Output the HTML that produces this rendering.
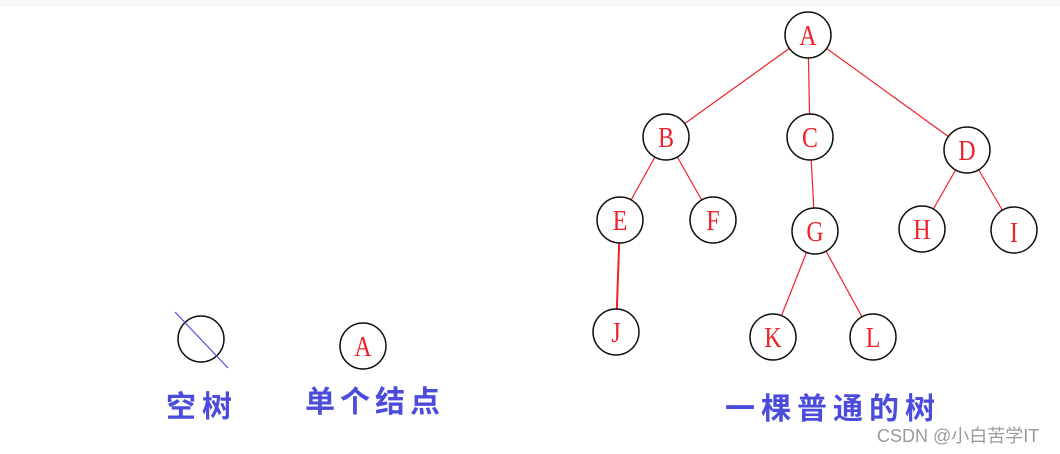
<!DOCTYPE html>
<html><head><meta charset="utf-8"><style>
html,body{margin:0;padding:0;background:#fff;}
body{width:1060px;height:454px;overflow:hidden;position:relative;}
.top{position:absolute;left:0;top:0;width:1060px;height:7px;background:#f7f8fa;}
svg{position:absolute;left:0;top:0;}
.lbl{position:absolute;font-family:"Liberation Sans","Noto Sans CJK SC",sans-serif;font-weight:bold;color:#4b4bdc;font-size:30px;white-space:nowrap;line-height:1;}
.wm{position:absolute;left:877px;top:427px;font-family:"Liberation Sans","Noto Sans CJK SC",sans-serif;font-size:18px;color:#9a9a9a;white-space:nowrap;line-height:1;}
</style></head><body>
<div class="top"></div>
<svg width="1060" height="454" viewBox="0 0 1060 454">
<g stroke="#f0202a" stroke-width="1.2" fill="none">
<line x1="808" y1="35" x2="666" y2="137"/>
<line x1="808" y1="35" x2="810" y2="137"/>
<line x1="808" y1="35" x2="967" y2="150"/>
<line x1="666" y1="137" x2="620" y2="220"/>
<line x1="666" y1="137" x2="713" y2="220"/>
<line x1="810" y1="137" x2="815" y2="231"/>
<line x1="967" y1="150" x2="922" y2="229"/>
<line x1="967" y1="150" x2="1014" y2="230"/>
<line x1="620" y1="220" x2="616" y2="332" stroke-width="2"/>
<line x1="815" y1="231" x2="773" y2="337"/>
<line x1="815" y1="231" x2="873" y2="337"/>
</g>
<g stroke="#111" stroke-width="1.5" fill="#fff">
<circle cx="808" cy="35" r="23"/>
<circle cx="666" cy="137" r="23"/>
<circle cx="810" cy="137" r="23"/>
<circle cx="967" cy="150" r="23"/>
<circle cx="620" cy="220" r="23"/>
<circle cx="713" cy="220" r="23"/>
<circle cx="815" cy="231" r="23"/>
<circle cx="922" cy="229" r="23"/>
<circle cx="1014" cy="230" r="23"/>
<circle cx="616" cy="332" r="23"/>
<circle cx="773" cy="337" r="23"/>
<circle cx="873" cy="337" r="23"/>
<circle cx="201" cy="339" r="23"/>
<circle cx="363" cy="346" r="23"/>
</g>
<line x1="175" y1="312" x2="228" y2="368" stroke="#4a4ae0" stroke-width="1.2"/>
<g font-family="Liberation Serif, serif" font-size="28" fill="#f0202a" text-anchor="middle">
<text x="808" y="45" transform="translate(808 0) scale(0.85 1) translate(-808 0)">A</text>
<text x="666" y="147" transform="translate(666 0) scale(0.85 1) translate(-666 0)">B</text>
<text x="810" y="147" transform="translate(810 0) scale(0.85 1) translate(-810 0)">C</text>
<text x="967" y="160" transform="translate(967 0) scale(0.85 1) translate(-967 0)">D</text>
<text x="620" y="230" transform="translate(620 0) scale(0.85 1) translate(-620 0)">E</text>
<text x="713" y="230" transform="translate(713 0) scale(0.85 1) translate(-713 0)">F</text>
<text x="815" y="241" transform="translate(815 0) scale(0.85 1) translate(-815 0)">G</text>
<text x="922" y="239" transform="translate(922 0) scale(0.85 1) translate(-922 0)">H</text>
<text x="1014" y="242" transform="translate(1014 0) scale(0.85 1) translate(-1014 0)">I</text>
<text x="616" y="342" transform="translate(616 0) scale(0.85 1) translate(-616 0)">J</text>
<text x="773" y="347" transform="translate(773 0) scale(0.85 1) translate(-773 0)">K</text>
<text x="873" y="347" transform="translate(873 0) scale(0.85 1) translate(-873 0)">L</text>
<text x="363" y="356" transform="translate(363 0) scale(0.85 1) translate(-363 0)">A</text>
</g>
</svg>
<div class="lbl" style="left:166px;top:393px;letter-spacing:6px;">空树</div>
<div class="lbl" style="left:305px;top:388px;letter-spacing:5px;">单个结点</div>
<div class="lbl" style="left:725px;top:395px;letter-spacing:6px;">一棵普通的树</div>
<div class="wm">CSDN @小白苦学IT</div>
</body></html>
